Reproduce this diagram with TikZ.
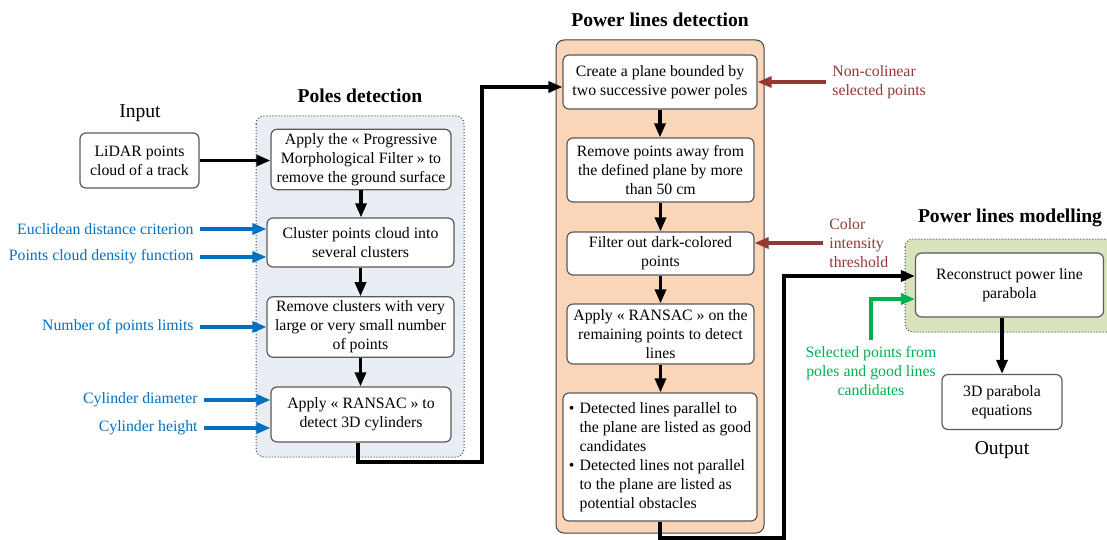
\documentclass[tikz,border=0pt]{standalone}
\usepackage{fontspec}
\setmainfont{Liberation Serif}
\usetikzlibrary{arrows.meta}

\definecolor{boxline}{HTML}{5A5A5A}
\definecolor{panelline}{HTML}{404040}
\definecolor{polesfill}{HTML}{E9EEF4}
\definecolor{linesfill}{HTML}{FBD5B7}
\definecolor{modelfill}{HTML}{D7E4BD}
\definecolor{paramblue}{HTML}{0070C0}
\definecolor{paramred}{HTML}{953735}
\definecolor{paramgreen}{HTML}{00B050}

\newcommand\txtsz{\fontsize{7.9}{9.5}\selectfont}
\newcommand\ttlsz{\fontsize{9.8}{12}\selectfont}

\tikzset{
  proc/.style={draw=boxline, line width=0.6pt, fill=white, rounded corners=3pt,
    align=center, inner sep=2pt, font=\txtsz, text=black},
  panel/.style={draw=panelline, line width=0.5pt, rounded corners=4pt},
  heading/.style={font=\ttlsz\bfseries, inner sep=0pt},
  iolabel/.style={font=\ttlsz, inner sep=0pt},
  conn/.style={line width=1.6pt, -{Triangle[length=7pt,width=5.5pt]}},
  param/.style={font=\txtsz, inner sep=3pt},
}

\begin{document}
\begin{tikzpicture}[x=0.5pt,y=-0.5pt]
\useasboundingbox (0,0) rectangle (1107,540);

% ---------- panels ----------
\draw[panel, densely dotted, fill=polesfill] (256,116) rectangle (464,457);
\draw[panel, fill=linesfill] (556,40) rectangle (764,533);
\draw[panel, densely dotted, fill=modelfill] (905,239) rectangle (1130,332);

% ---------- titles ----------
\node[iolabel]  (tin)  at (140,113) {Input};
\node[heading]  (tpd)  at (360,96)  {Poles detection};
\node[heading]  (tld)  at (660,20)  {Power lines detection};
\node[heading]  (tlm)  at (1010,218) {Power lines modelling};
\node[iolabel]  (tout) at (1002,450) {Output};

% ---------- input ----------
\node[proc, minimum width=59.5pt, minimum height=27.5pt] (lidar) at (139.5,160.5)
  {LiDAR points\\cloud of a track};

% ---------- poles detection ----------
\node[proc, minimum width=90pt, minimum height=28.5pt] (p1) at (361,159.5)
  {Apply the « Progressive\\Morphological Filter » to\\remove the ground surface};
\node[proc, minimum width=93.5pt, minimum height=24.5pt] (p2) at (360.5,242.5)
  {Cluster points cloud into\\several clusters};
\node[proc, minimum width=93.5pt, minimum height=30pt] (p3) at (360.5,327)
  {Remove clusters with very\\large or very small number\\of points};
\node[proc, minimum width=90pt, minimum height=27.5pt] (p4) at (361,414.5)
  {Apply « RANSAC » to\\detect 3D cylinders};

% ---------- power lines detection ----------
\node[proc, minimum width=97pt, minimum height=27pt] (d1) at (660,82)
  {Create a plane bounded by\\two successive power poles};
\node[proc, minimum width=93.5pt, minimum height=32pt] (d2) at (660.5,170)
  {Remove points away from\\the defined plane by more\\than 50 cm};
\node[proc, minimum width=93.5pt, minimum height=21.5pt] (d3) at (660.5,253.5)
  {Filter out dark-colored\\points};
\node[proc, minimum width=93.5pt, minimum height=30pt] (d4) at (660.5,334)
  {Apply « RANSAC » on the\\remaining points to detect\\lines};
\node[proc, minimum width=97pt, minimum height=64pt] (d5) at (660,457)
  {\begin{tabular}{@{}l@{\hspace{2.6pt}}l@{}}
   \textbullet & Detected lines parallel to\\
               & the plane are listed as good\\
               & candidates\\
   \textbullet & Detected lines not parallel\\
               & to the plane are listed as\\
               & potential obstacles
   \end{tabular}};

% ---------- power lines modelling ----------
\node[proc, minimum width=94pt, minimum height=32pt] (rec) at (1009.5,285)
  {Reconstruct power line\\parabola};
\node[proc, minimum width=60pt, minimum height=27.5pt] (out) at (1002,402)
  {3D parabola\\equations};

% ---------- parameters ----------
\node[param, text=paramblue, anchor=east] (b1) at (200,229) {Euclidean distance criterion};
\node[param, text=paramblue, anchor=east] (b2) at (200,257) {Points cloud density function};
\node[param, text=paramblue, anchor=east] (b3) at (200,327) {Number of points limits};
\node[param, text=paramblue, anchor=east] (b4) at (204,400) {Cylinder diameter};
\node[param, text=paramblue, anchor=east] (b5) at (204,428) {Cylinder height};

\node[param, text=paramred, anchor=west, align=left] (r1) at (826,82)
  {Non-colinear\\selected points};
\node[param, text=paramred, anchor=west, align=left] (r2) at (823,243)
  {Color\\intensity\\threshold};

\node[param, text=paramgreen, align=center] (g1) at (871,371)
  {Selected points from\\poles and good lines\\candidates};

% ---------- parameter arrows ----------
\foreach \b/\t in {b1/p2, b2/p2, b3/p3, b4/p4, b5/p4}
  \draw[conn, paramblue] (\b.east) -- (\b.east -| \t.west);
\draw[conn, paramred] (r1.west) -- (r1.west -| d1.east);
\draw[conn, paramred] (r2.west) -- (r2.west -| d3.east);
\draw[conn, paramgreen] (g1.north) |- ([yshift=-7pt]rec.west);

% ---------- main flow ----------
\draw[conn] (lidar.east) -- (lidar.east -| p1.west);
\draw[conn] (p1.south) -- (p1.south |- p2.north);
\draw[conn] (p2.south) -- (p2.south |- p3.north);
\draw[conn] (p3.south) -- (p3.south |- p4.north);

\coordinate (j1) at (482,462);
\draw[conn] ([xshift=-1.5pt]p4.south) |- (j1) |- ([yshift=-2.5pt]d1.west);

\draw[conn] (d1.south) -- (d1.south |- d2.north);
\draw[conn] (d2.south) -- (d2.south |- d3.north);
\draw[conn] (d3.south) -- (d3.south |- d4.north);
\draw[conn] (d4.south) -- (d4.south |- d5.north);

\coordinate (j2) at (784,538);
\draw[conn] (d5.south) |- (j2) |- ([yshift=4.5pt]rec.west);

\draw[conn] (out.north |- rec.south) -- (out.north);
\end{tikzpicture}
\end{document}
